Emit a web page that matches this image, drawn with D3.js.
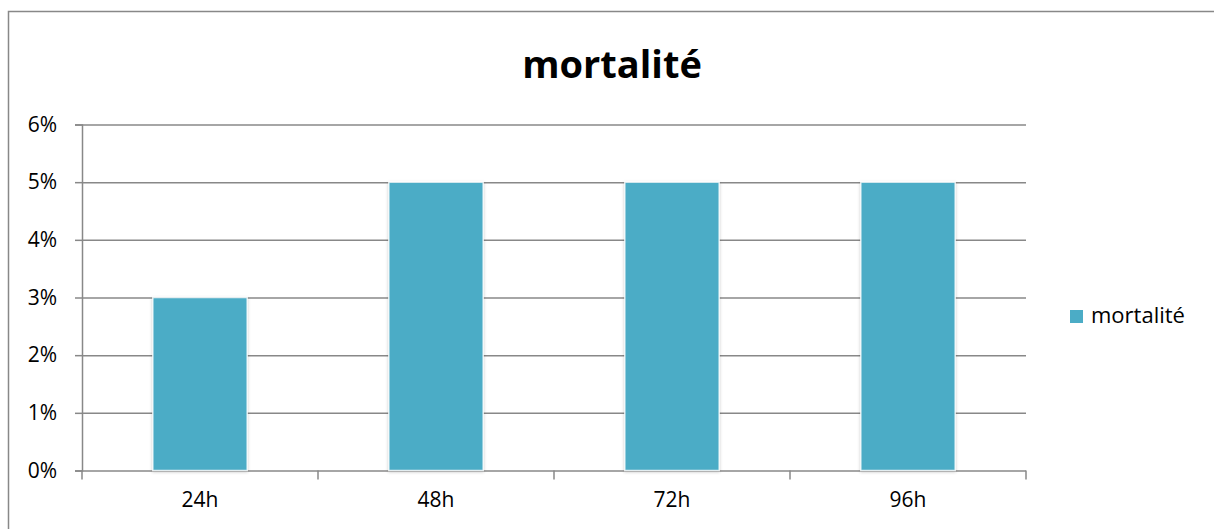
<!DOCTYPE html>
<html>
<head>
<meta charset="utf-8">
<script src="https://cdn.jsdelivr.net/npm/d3@7"></script>
<style>
    html, body { margin: 0; padding: 0; background: #fff; overflow: hidden; }
    svg { display: block; }
    svg text { font-family: 'Open Sans', sans-serif; }
</style>
</head>
<body>
<div id="chart"></div>
<script>
const categories = ['24h', '48h', '72h', '96h'];
const seriesName = 'mortalité';
const mortalite = [0.03, 0.05, 0.05, 0.05];
const yTicks = [0, 0.01, 0.02, 0.03, 0.04, 0.05, 0.06];

const width = 1214;
const height = 529;
const plot = { left: 82, right: 1026, top: 124.5, bottom: 470.5 };
const barColor = '#4bacc6';
const lineColor = '#888888';

const svg = d3.select('#chart')
    .append('svg')
    .attr('width', width)
    .attr('height', height);

/* soft shadow under the bars */
const filter = svg.append('defs')
    .append('filter')
    .attr('id', 'shadow')
    .attr('x', '-20%').attr('y', '-20%')
    .attr('width', '140%').attr('height', '140%');
filter.append('feDropShadow')
    .attr('dx', 0).attr('dy', 1)
    .attr('stdDeviation', 1.8)
    .attr('flood-color', '#000')
    .attr('flood-opacity', 0.22);

/* chart frame, runs off the right and bottom edge */
svg.append('rect')
    .attr('x', 8.5)
    .attr('y', 11.5)
    .attr('width', width + 20)
    .attr('height', height + 20)
    .attr('fill', 'none')
    .attr('stroke', lineColor)
    .attr('stroke-width', 1.5);

const x = d3.scaleBand()
    .domain(categories)
    .range([plot.left, plot.right])
    .paddingInner(0.6)
    .paddingOuter(0.3);

const y = d3.scaleLinear()
    .domain([0, 0.06])
    .range([plot.bottom, plot.top]);

/* gridlines + y axis */
const yAxis = svg.append('g')
    .attr('class', 'y-axis')
    .attr('transform', `translate(${plot.left},0)`)
    .call(d3.axisLeft(y)
        .tickValues(yTicks)
        .tickFormat(d3.format('.0%'))
        .tickSize(7)
        .tickPadding(18));
yAxis.attr('font-family', null);
yAxis.select('.domain')
    .attr('stroke', lineColor)
    .attr('stroke-width', 1.5);
yAxis.selectAll('.tick line')
    .attr('stroke', lineColor)
    .attr('stroke-width', 1.5);
yAxis.selectAll('.tick')
    .append('line')
    .attr('x1', 0)
    .attr('x2', plot.right - plot.left)
    .attr('stroke', lineColor)
    .attr('stroke-width', 1.5);
yAxis.selectAll('.tick text')
    .attr('fill', '#000')
    .style('font-size', '21px');

/* x axis with ticks between categories */
const xAxis = svg.append('g')
    .attr('class', 'x-axis')
    .attr('transform', `translate(0,${plot.bottom})`)
    .call(d3.axisBottom(x).tickSize(0).tickPadding(22));
xAxis.attr('font-family', null);
xAxis.select('.domain').remove();
xAxis.selectAll('.tick text')
    .attr('fill', '#000')
    .style('font-size', '21px');

const step = x.step();
const boundaries = d3.range(categories.length + 1)
    .map((i) => plot.left + i * step);
xAxis.selectAll('.sep')
    .data(boundaries)
    .enter()
    .append('line')
    .attr('class', 'sep')
    .attr('x1', (d) => d).attr('x2', (d) => d)
    .attr('y1', 0).attr('y2', 9)
    .attr('stroke', lineColor)
    .attr('stroke-width', 1.5);

/* bars */
svg.append('g')
    .attr('class', 'bars')
    .selectAll('rect')
    .data(mortalite)
    .enter()
    .append('rect')
    .attr('x', (d, i) => x(categories[i]))
    .attr('y', (d) => y(d))
    .attr('width', x.bandwidth())
    .attr('height', (d) => y(0) - y(d))
    .attr('fill', barColor)
    .attr('stroke', '#ffffff')
    .attr('stroke-opacity', 0.8)
    .attr('stroke-width', 1.5)
    .attr('filter', 'url(#shadow)');

/* title */
svg.append('text')
    .attr('x', 612)
    .attr('y', 78)
    .attr('text-anchor', 'middle')
    .style('font-size', '38px')
    .style('font-weight', 'bold')
    .text(seriesName);

/* legend */
const legend = svg.append('g')
    .attr('class', 'legend')
    .attr('transform', 'translate(1070,310)');
legend.append('rect')
    .attr('width', 13)
    .attr('height', 13)
    .attr('fill', barColor);
legend.append('text')
    .attr('x', 21)
    .attr('y', 13)
    .style('font-size', '22px')
    .text(seriesName);
</script>
</body>
</html>
